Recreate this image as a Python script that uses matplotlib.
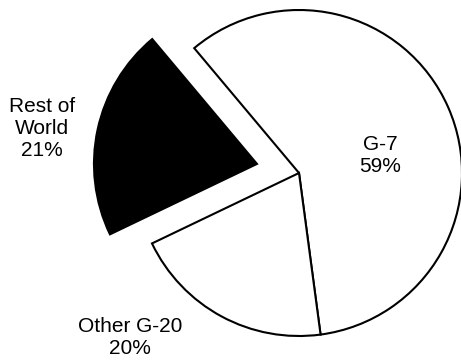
"""Pie chart: share of world total by country group."""

import matplotlib

matplotlib.use("Agg")

import matplotlib.pyplot as plt

GROUPS = ["G-7", "Other G-20", "Rest of\nWorld"]
SHARES = [59, 20, 21]
COLORS = ["white", "white", "black"]
# pie explode is in data units here (pixel space), not a fraction
EXPLODE = [0.0, 0.0, 43.0]

# label anchor points in pixel space (y measured up from the bottom)
LABEL_POS = [(380, 205), (130, 23), (42, 232)]

plt.rcParams["font.family"] = ["Liberation Sans", "DejaVu Sans"]

fig = plt.figure(figsize=(4.61, 3.6), dpi=100)
ax = fig.add_axes([0, 0, 1, 1])

ax.pie(
    SHARES,
    colors=COLORS,
    explode=EXPLODE,
    startangle=130,
    counterclock=False,
    center=(299, 187),
    radius=163,
    wedgeprops={"edgecolor": "black", "linewidth": 1.5},
    frame=True,
)

for name, share, (x, y) in zip(GROUPS, SHARES, LABEL_POS):
    ax.text(x, y, f"{name}\n{share}%", ha="center", va="center",
            fontsize=15, linespacing=1.2)

ax.set_xlim(0, 461)
ax.set_ylim(0, 360)
ax.set_aspect("equal")
ax.axis("off")

fig.savefig("out.png", dpi=100)
